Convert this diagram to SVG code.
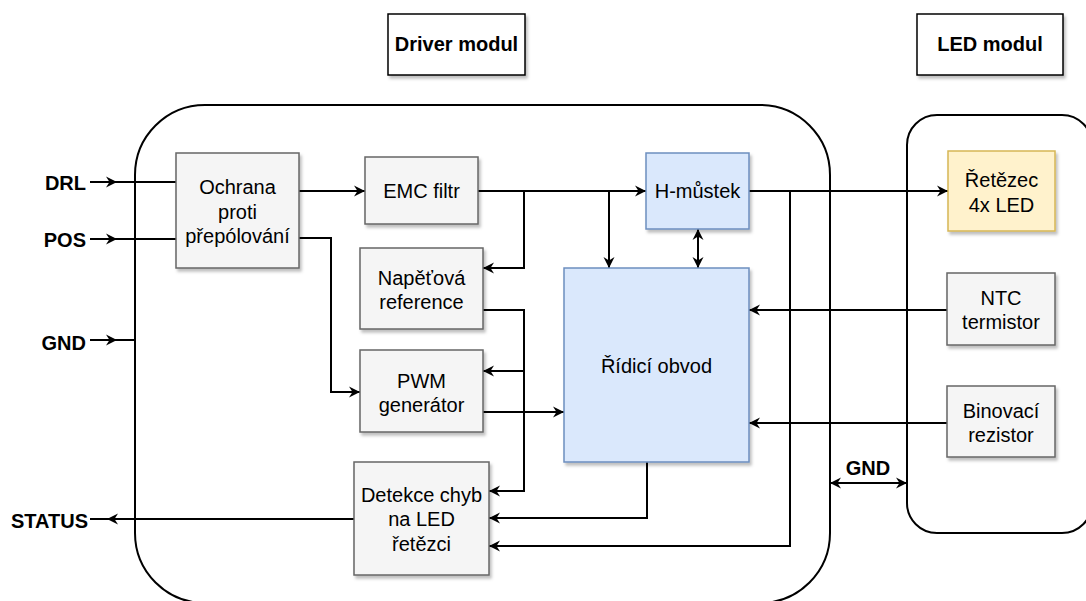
<svg xmlns="http://www.w3.org/2000/svg" width="1086" height="601" viewBox="0 0 1086 601">
  <style>
    .txt { font-family: "Liberation Sans", Arial, sans-serif; font-size: 20px; fill: #000; text-anchor: middle; }
    .lbl { font-family: "Liberation Sans", Arial, sans-serif; font-size: 20px; font-weight: bold; fill: #000; }
    .gray { fill: #f5f5f5; stroke: #666666; stroke-width: 1.5; filter: url(#shadow); }
    .blue { fill: #dae8fc; stroke: #6c8ebf; stroke-width: 1.5; filter: url(#shadow); }
    .yellow { fill: #fff2cc; stroke: #d6b656; stroke-width: 1.5; filter: url(#shadow); }
    .title { fill: #ffffff; stroke: #000; stroke-width: 1.5; filter: url(#shadow); }
    .module { fill: none; stroke: #000; stroke-width: 2; }
    .wire { fill: none; stroke: #000; stroke-width: 2; }
    .arr { marker-end: url(#head); }
    .both { marker-start: url(#head); marker-end: url(#head); }
  </style>
  <defs>
    <filter id="shadow" x="-10%" y="-10%" width="130%" height="130%">
      <feDropShadow dx="2" dy="3" stdDeviation="1.5" flood-color="#000" flood-opacity="0.25"/>
    </filter>
    <marker id="head" markerUnits="userSpaceOnUse" viewBox="-12 -6 13 12" markerWidth="13" markerHeight="12" refX="0" refY="0" orient="auto-start-reverse">
      <path d="M0,0 L-11,-5.5 L-7.5,0 L-11,5.5 Z" fill="#000"/>
    </marker>
  </defs>

  <!-- module outlines -->
  <g id="driver-module">
    <rect class="module" x="135" y="105" width="695" height="498" rx="70" ry="70"/>
  </g>
  <g id="led-module">
    <rect class="module" x="907" y="115" width="185" height="418" rx="30" ry="30"/>
  </g>

  <!-- headings -->
  <g id="title-driver">
    <rect class="title" x="388" y="14" width="137" height="61"/>
    <text class="lbl" x="456.5" y="51" text-anchor="middle">Driver modul</text>
  </g>
  <g id="title-led">
    <rect class="title" x="917" y="14" width="146" height="61"/>
    <text class="lbl" x="990" y="51" text-anchor="middle">LED modul</text>
  </g>

  <!-- connectors -->
  <g id="connectors">
    <!-- external inputs / outputs -->
    <path class="wire" d="M90,182 H176"/>
    <path class="wire arr" d="M90,182 H117"/>
    <path class="wire" d="M90,239 H176"/>
    <path class="wire arr" d="M90,239 H117"/>
    <path class="wire" d="M90,340 H135"/>
    <path class="wire arr" d="M90,340 H117"/>
    <path class="wire" d="M354,519 H90"/>
    <path class="wire arr" d="M130,519 H107"/>

    <!-- protection to filter and PWM -->
    <path class="wire arr" d="M299,191 H365"/>
    <path class="wire arr" d="M299,238 H331 V392 H360"/>

    <!-- supply rail from EMC filter -->
    <path class="wire arr" d="M478,191 H646"/>
    <path class="wire arr" d="M524,191 V268 H483"/>
    <path class="wire arr" d="M609,191 V268"/>

    <!-- H-bridge <-> controller -->
    <path class="wire both" d="M698,229 V268"/>

    <!-- voltage reference distribution -->
    <path class="wire arr" d="M483,310 H524 V491 H489"/>
    <path class="wire arr" d="M524,371 H483"/>

    <!-- PWM to controller -->
    <path class="wire arr" d="M483,412 H564"/>

    <!-- controller to fault detection -->
    <path class="wire arr" d="M647,462 V518 H489"/>

    <!-- H-bridge output to LED string and sense -->
    <path class="wire arr" d="M749,191 H948"/>
    <path class="wire arr" d="M790,191 V546 H489"/>

    <!-- LED module feedback -->
    <path class="wire arr" d="M947,310 H749"/>
    <path class="wire arr" d="M947,423 H749"/>

    <!-- ground between modules -->
    <path class="wire both" d="M830,483 H907"/>
  </g>

  <!-- terminal labels -->
  <g id="labels">
    <text class="lbl" x="86" y="190" text-anchor="end">DRL</text>
    <text class="lbl" x="86" y="247" text-anchor="end">POS</text>
    <text class="lbl" x="86" y="350" text-anchor="end">GND</text>
    <text class="lbl" x="88" y="528" text-anchor="end">STATUS</text>
    <text class="lbl" x="868" y="475" text-anchor="middle">GND</text>
  </g>

  <!-- blocks -->
  <g id="ochrana">
    <rect class="gray" x="176" y="153" width="123" height="115"/>
    <text class="txt" x="237.5" y="194">Ochrana</text>
    <text class="txt" x="237.5" y="218.5">proti</text>
    <text class="txt" x="237.5" y="243">přepólování</text>
  </g>
  <g id="emc-filtr">
    <rect class="gray" x="365" y="157" width="113" height="67"/>
    <text class="txt" x="421.5" y="197.5">EMC filtr</text>
  </g>
  <g id="napetova-reference">
    <rect class="gray" x="360" y="248" width="123" height="81"/>
    <text class="txt" x="421.5" y="285">Napěťová</text>
    <text class="txt" x="421.5" y="309">reference</text>
  </g>
  <g id="pwm-generator">
    <rect class="gray" x="360" y="350" width="123" height="82"/>
    <text class="txt" x="421.5" y="387.5">PWM</text>
    <text class="txt" x="421.5" y="411.5">generátor</text>
  </g>
  <g id="detekce-chyb">
    <rect class="gray" x="354" y="462" width="135" height="113"/>
    <text class="txt" x="421.5" y="501.5">Detekce chyb</text>
    <text class="txt" x="421.5" y="526">na LED</text>
    <text class="txt" x="421.5" y="550.5">řetězci</text>
  </g>
  <g id="h-mustek">
    <rect class="blue" x="646" y="153" width="103" height="76"/>
    <text class="txt" x="697.5" y="198">H-můstek</text>
  </g>
  <g id="ridici-obvod">
    <rect class="blue" x="564" y="268" width="185" height="194"/>
    <text class="txt" x="656.5" y="373">Řídicí obvod</text>
  </g>
  <g id="retezec-led">
    <rect class="yellow" x="948" y="151" width="107" height="80"/>
    <text class="txt" x="1001.5" y="187">Řetězec</text>
    <text class="txt" x="1001.5" y="211.5">4x LED</text>
  </g>
  <g id="ntc-termistor">
    <rect class="gray" x="947" y="273" width="108" height="72"/>
    <text class="txt" x="1001" y="305">NTC</text>
    <text class="txt" x="1001" y="329">termistor</text>
  </g>
  <g id="binovaci-rezistor">
    <rect class="gray" x="947" y="386" width="108" height="71"/>
    <text class="txt" x="1001" y="417.5">Binovací</text>
    <text class="txt" x="1001" y="441.5">rezistor</text>
  </g>
</svg>
